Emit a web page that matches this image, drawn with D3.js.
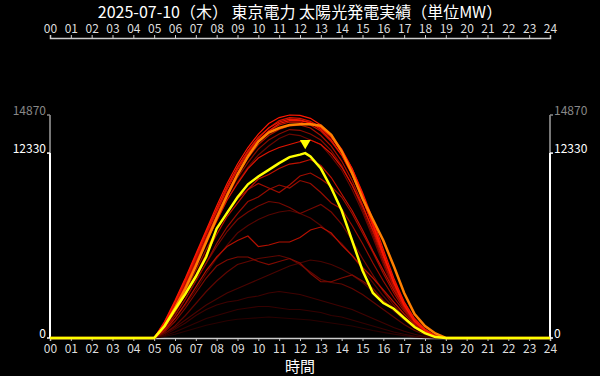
<!DOCTYPE html>
<html>
<head>
<meta charset="utf-8">
<script src="https://cdn.jsdelivr.net/npm/d3@7"></script>
<style>
  body { margin: 0; background: #000; }
  svg { display: block; }
  text { font-family: "Noto Sans CJK JP", "Noto Sans", sans-serif; }
</style>
</head>
<body>
<div id="chart"></div>
<script>
const width = 600;
const height = 376;
const margin = { t: 115, r: 50, b: 38, l: 50 };

const title = '2025-07-10（木） 東京電力 太陽光発電実績（単位MW）';
const xName = '時間';
const hourLabels = ['00', '01', '02', '03', '04', '05', '06', '07', '08', '09', '10', '11', '12',
  '13', '14', '15', '16', '17', '18', '19', '20', '21', '22', '23', '24'];

// hours for the past days (half-hour steps in daylight)
const pastHours = [0, 5, 5.5, 6, 6.5, 7, 7.5, 8, 8.5, 9, 9.5, 10, 10.5, 11, 11.5, 12, 12.5,
  13, 13.5, 14, 14.5, 15, 15.5, 16, 16.5, 17, 17.5, 18, 18.5, 19, 24];

// past days, oldest first (MW)
const d19 = [0, 0, 100, 250, 450, 650, 850, 1000, 1150, 1250, 1300, 1350, 1400, 1350, 1300, 1250, 1200, 1100, 1000, 900, 800, 650, 500, 380, 260, 160, 80, 30, 5, 0, 0];
const d01 = [0, 0, 150, 400, 700, 1000, 1300, 1500, 1700, 1900, 2000, 2100, 2100, 2000, 1900, 1900, 1800, 1700, 1500, 1400, 1200, 1000, 800, 600, 400, 250, 130, 50, 10, 0, 0];
const d02 = [0, 0, 200, 600, 1000, 1500, 1900, 2200, 2400, 2500, 2700, 2800, 3000, 3100, 3000, 2900, 2700, 2500, 2300, 2100, 1900, 1600, 1300, 1000, 700, 450, 250, 100, 20, 0, 0];
const d20 = [0, 0, 300, 700, 1200, 1700, 2200, 2600, 3000, 3300, 3600, 3900, 4200, 4500, 4800, 5000, 5200, 5100, 4900, 4600, 4200, 3700, 3100, 2500, 1800, 1200, 650, 280, 60, 0, 0];
const d03 = [0, 0, 500, 1300, 2200, 3200, 4300, 5300, 6200, 7000, 7500, 7900, 8200, 8400, 8500, 8300, 8000, 7500, 6900, 6300, 5500, 4600, 3700, 2800, 2000, 1300, 700, 300, 70, 0, 0];
const d04 = [0, 0, 300, 800, 1500, 2300, 3100, 3800, 4400, 4900, 5100, 5300, 5400, 5500, 5300, 4900, 4400, 3900, 3700, 3600, 3300, 2900, 2400, 1900, 1400, 900, 500, 220, 50, 0, 0];
const d05 = [0, 0, 900, 2100, 3500, 4900, 6400, 7800, 9200, 10400, 11400, 12200, 12800, 13300, 13600, 13500, 13200, 12900, 12100, 11200, 9900, 8400, 6700, 4900, 3200, 1900, 950, 420, 100, 0, 0];
const d06 = [0, 0, 600, 1500, 2600, 3800, 5000, 6100, 7100, 7900, 8400, 8800, 9100, 9000, 8700, 8300, 8600, 8900, 8400, 7600, 6500, 5300, 4200, 3100, 2200, 1400, 800, 350, 80, 0, 0];
const d07 = [0, 0, 400, 1100, 2000, 3000, 4000, 4800, 5200, 5400, 5400, 5100, 4900, 5100, 5300, 5000, 4300, 3750, 3750, 4000, 4200, 3800, 3300, 2500, 1900, 1300, 700, 300, 70, 0, 0];
const d08 = [0, 0, 950, 2200, 3600, 5100, 6600, 8000, 9400, 10700, 11700, 12600, 13200, 13600, 13900, 13850, 13600, 13200, 12500, 11500, 10200, 8600, 6900, 5100, 3400, 2000, 1000, 450, 100, 0, 0];
const d09 = [0, 0, 600, 1500, 2600, 3800, 5000, 6300, 7400, 8300, 9100, 9400, 9900, 10200, 10000, 10500, 10300, 9700, 9000, 8600, 7500, 6300, 5000, 3800, 2700, 1800, 1000, 450, 100, 0, 0];
const d21 = [0, 0, 800, 1900, 3100, 4500, 5900, 7200, 8400, 9300, 9900, 10300, 10000, 9700, 10200, 10800, 11000, 10600, 10100, 9400, 8300, 7000, 5700, 4300, 3000, 1900, 1100, 480, 110, 0, 0];
const d10 = [0, 0, 1000, 2300, 3700, 5200, 6700, 8200, 9700, 10900, 12000, 12900, 13500, 13900, 14150, 14200, 14000, 13500, 12800, 11800, 10500, 8900, 7100, 5200, 3400, 2000, 1000, 450, 100, 0, 0];
const d11 = [0, 0, 500, 1300, 2300, 3400, 4500, 5400, 6100, 6500, 6800, 6100, 6200, 6400, 6400, 6700, 7200, 7400, 7000, 6200, 5500, 4700, 4000, 3200, 2400, 1600, 900, 400, 90, 0, 0];
const d12 = [0, 0, 700, 1700, 2900, 4200, 5600, 6900, 8100, 9000, 9900, 10600, 10900, 11300, 11600, 11700, 11900, 11500, 10700, 9600, 8500, 7200, 5800, 4500, 3200, 2100, 1200, 500, 120, 0, 0];
const d13 = [0, 0, 1000, 2300, 3800, 5300, 6900, 8400, 9900, 11200, 12300, 13200, 13800, 14200, 14400, 14400, 14200, 13800, 13100, 12200, 10900, 9300, 7400, 5400, 3600, 2100, 1100, 480, 110, 0, 0];
const d14 = [0, 0, 1000, 2300, 3800, 5400, 7000, 8500, 10000, 11300, 12400, 13300, 14000, 14500, 14700, 14650, 14450, 14050, 13400, 12400, 11100, 9500, 7700, 5700, 3800, 2300, 1150, 500, 120, 0, 0];
const d15 = [0, 0, 900, 2100, 3400, 4900, 6400, 7800, 9200, 10300, 11300, 12000, 12400, 12700, 12900, 13100, 13200, 12900, 12300, 11400, 10200, 8800, 7200, 5500, 3800, 2400, 1300, 600, 150, 0, 0];
const d16 = [0, 0, 1050, 2400, 3900, 5500, 7100, 8600, 10100, 11400, 12500, 13400, 14000, 14400, 14600, 14550, 14350, 13900, 13200, 12200, 10900, 9300, 7500, 5500, 3700, 2200, 1150, 500, 120, 0, 0];
const d17 = [0, 0, 900, 2100, 3500, 5000, 6600, 8100, 9600, 11000, 12100, 13100, 13800, 14300, 14500, 14500, 14350, 14000, 13400, 12500, 11300, 9700, 7900, 5900, 4000, 2400, 1250, 550, 130, 0, 0];
const d18 = [0, 0, 1100, 2500, 4000, 5600, 7200, 8800, 10300, 11600, 12700, 13600, 14300, 14700, 14870, 14850, 14650, 14200, 13500, 12600, 11300, 9600, 7600, 5600, 3700, 2200, 1100, 500, 120, 0, 0];
const pastDays = [d19, d01, d02, d20, d03, d04, d05, d06, d07, d08, d09, d21, d10, d11, d12, d13, d14, d15, d16, d17, d18];

// yesterday
const yesterday = [0, 0, 800, 2000, 3300, 4800, 6400, 8000, 9500, 10900, 12100, 13100, 13700, 14000, 14200, 14250, 14250, 14150, 13550, 12450, 11000, 9300, 7900, 6500, 4800, 3000, 1600, 800, 300, 0, 0];

// today
const todayHours = [0, 5, 5.5, 6, 6.5, 7, 7.5, 8, 8.5, 9, 9.5, 10, 10.5, 11, 11.5, 12, 12.25, 12.5,
  13, 13.5, 14, 14.5, 15, 15.5, 16, 16.5, 17, 17.5, 18, 18.5, 19, 24];
const today = [0, 0, 800, 1900, 2950, 4100, 5420, 7300, 8340, 9380, 10250, 10770, 11210, 11660, 12060, 12230, 12330, 12100,
  11300, 10000, 8500, 6500, 4500, 3000, 2330, 1950, 1330, 730, 330, 60, 0, 0];

const todayMax = d3.max(today);
const allMax = d3.max([...pastDays.flat(), ...yesterday, ...today]);
const peakIndex = today.indexOf(todayMax);

const svg = d3.select('#chart').append('svg')
  .attr('width', width)
  .attr('height', height)
  .style('background', '#000');

const x = d3.scaleLinear().domain([0, 24]).range([margin.l, width - margin.r]);
const y = d3.scaleLinear().domain([0, allMax]).range([height - margin.b, margin.t]);

const colour = d3.scaleLinear()
  .domain([0, pastDays.length - 1])
  .range(['#2a0000', '#ff1800'])
  .interpolate(d3.interpolateRgb);

const line = d3.line()
  .x((d) => x(d[0]))
  .y((d) => y(d[1]));

// title
svg.append('text')
  .attr('x', width / 2)
  .attr('y', 18)
  .attr('text-anchor', 'middle')
  .attr('fill', '#fff')
  .style('font-size', '16px')
  .text(title);

// hour axes, top and bottom
const hourValues = hourLabels.map(Number);
function styleAxis(g) {
  g.select('.domain').attr('stroke', '#ccc').attr('stroke-width', 1.5);
  g.selectAll('.tick line').attr('stroke', '#ccc');
  g.selectAll('.tick text').attr('fill', '#ddd').style('font-size', '12px')
    .style('font-family', '"Noto Sans CJK JP", "Noto Sans", sans-serif');
}
svg.append('g')
  .attr('transform', `translate(0, 38)`)
  .call(d3.axisTop(x).tickValues(hourValues).tickFormat((d, i) => hourLabels[i]).tickSize(3).tickPadding(2))
  .call(styleAxis);
svg.append('g')
  .attr('transform', `translate(0, ${height - margin.b})`)
  .call(d3.axisBottom(x).tickValues(hourValues).tickFormat((d, i) => hourLabels[i]).tickSize(3))
  .call(styleAxis);

svg.append('text')
  .attr('x', width / 2)
  .attr('y', 372)
  .attr('text-anchor', 'middle')
  .attr('fill', '#fff')
  .style('font-size', '15px')
  .text(xName);

// value axes on both sides
[x(0), x(24)].forEach((ax, side) => {
  svg.append('line')
    .attr('x1', ax).attr('x2', ax)
    .attr('y1', y(todayMax)).attr('y2', y(allMax))
    .attr('stroke', '#777').attr('stroke-width', 2);
  svg.append('line')
    .attr('x1', ax).attr('x2', ax)
    .attr('y1', y(0)).attr('y2', y(todayMax))
    .attr('stroke', '#fff').attr('stroke-width', 2);
  [0, todayMax, allMax].forEach((v) => {
    const c = v === allMax ? '#888' : '#fff';
    svg.append('line')
      .attr('x1', side ? ax : ax - 3).attr('x2', side ? ax + 3 : ax)
      .attr('y1', y(v)).attr('y2', y(v))
      .attr('stroke', c).attr('stroke-width', 1.5);
    svg.append('text')
      .attr('x', side ? ax + 4 : ax - 4)
      .attr('y', y(v))
      .attr('text-anchor', side ? 'start' : 'end')
      .attr('fill', c)
      .style('font-size', '12px')
      .text(v);
  });
});

// past days
pastDays.forEach((vals, i) => {
  svg.append('path')
    .datum(pastHours.map((h, j) => [h, vals[j]]))
    .attr('d', line)
    .attr('fill', 'none')
    .attr('stroke', colour(i))
    .attr('stroke-width', 1.2);
});

svg.append('path')
  .datum(pastHours.map((h, j) => [h, yesterday[j]]))
  .attr('d', line)
  .attr('fill', 'none')
  .attr('stroke', '#ff8000')
  .attr('stroke-width', 2.5);

svg.append('path')
  .datum(todayHours.map((h, j) => [h, today[j]]))
  .attr('d', line)
  .attr('fill', 'none')
  .attr('stroke', '#ffff00')
  .attr('stroke-width', 2.5);

// peak marker
svg.append('path')
  .attr('d', d3.symbol(d3.symbolTriangle, 50)())
  .attr('transform', `translate(${x(todayHours[peakIndex])}, ${y(todayMax) - 10}) rotate(180)`)
  .attr('fill', '#ffff00');
</script>
</body>
</html>
